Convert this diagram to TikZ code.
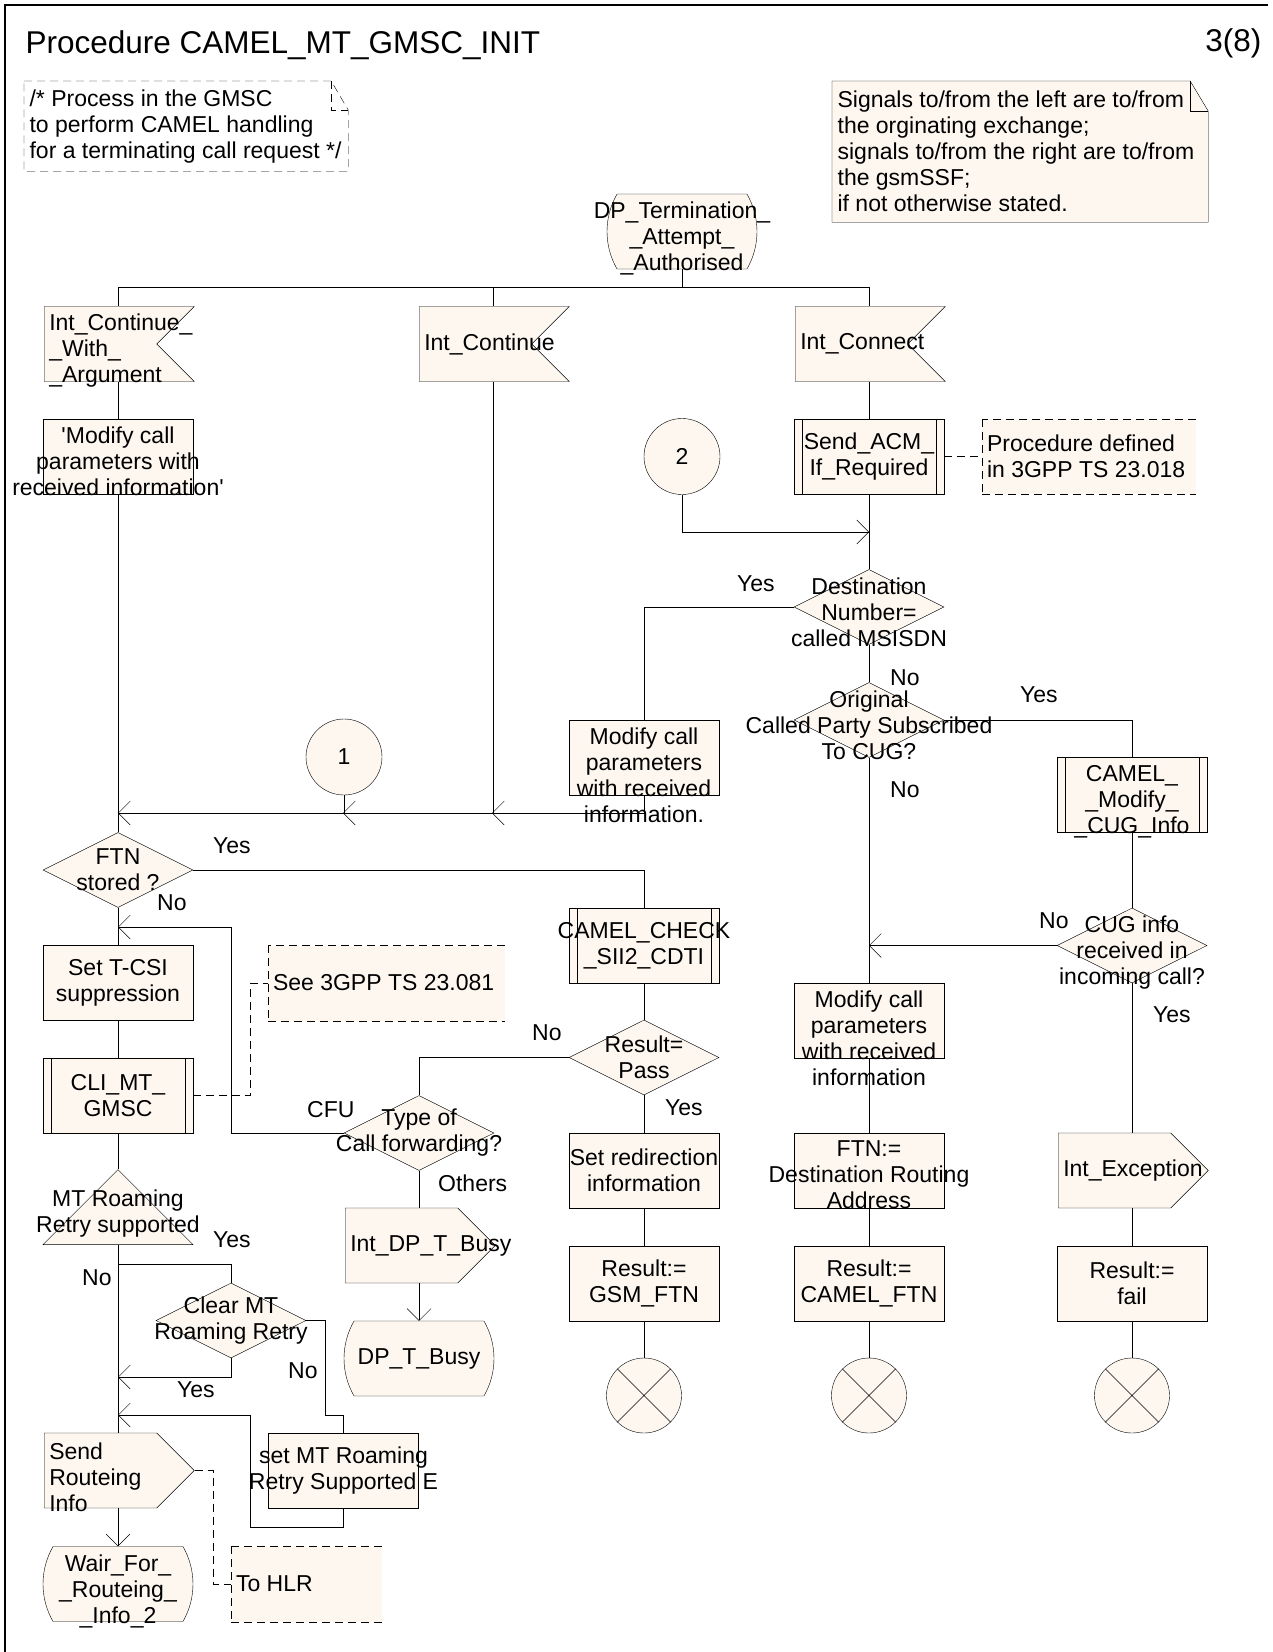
\documentclass[tikz,border=0pt]{standalone}
\usepackage{fontspec}
\setmainfont{Liberation Sans}
\usetikzlibrary{shapes.geometric,shapes.symbols,shapes.misc,arrows.meta}
\pgfdeclarelayer{background}
\pgfsetlayers{background,main}
\definecolor{sdlfill}{RGB}{253,247,240}

\begin{document}
\begin{tikzpicture}[x=1pt,y=-1pt,line width=1.2pt,
  font=\fontsize{23}{26}\selectfont,
  sym/.style={draw,fill=sdlfill,inner sep=0pt,minimum width=150pt,minimum height=75pt},
  box/.style={sym,rectangle},
  proc/.style={box,append after command={
    ([xshift=8pt]\tikzlastnode.north west) edge ([xshift=8pt]\tikzlastnode.south west)
    ([xshift=-8pt]\tikzlastnode.north east) edge ([xshift=-8pt]\tikzlastnode.south east)}},
  dec/.style={sym,diamond},
  stsym/.style={sym,rounded rectangle,rounded rectangle arc length=60},
  insig/.style={sym,signal,signal to=nowhere,signal from=east,xshift=-17.5pt},
  outsig/.style={sym,signal,signal to=east,xshift=-17.5pt},
  tri/.style={sym,isosceles triangle,shape border rotate=90,isosceles triangle stretches},
  conn/.style={sym,circle,minimum size=76pt},
  endsym/.style={sym,circle,minimum size=75pt,path picture={
    \draw (path picture bounding box.north west) -- (path picture bounding box.south east)
          (path picture bounding box.north east) -- (path picture bounding box.south west);}},
  dsh/.style={dash pattern=on 8pt off 5pt},
  cmt/.style={fill=sdlfill,inner sep=0pt,minimum height=75pt,append after command={
    (\tikzlastnode.north east) edge[dsh] (\tikzlastnode.north west)
    (\tikzlastnode.north west) edge[dsh] (\tikzlastnode.south west)
    (\tikzlastnode.south west) edge[dsh] (\tikzlastnode.south east)}},
  txt/.style={label={[anchor=center,align=center,inner sep=0pt]center:{#1}}},
  ttxt/.style={label={[anchor=north,align=center,inner sep=0pt,yshift=-8pt]north:{#1}}},
  ltxt/.style={label={[anchor=west,align=left,inner sep=0pt,xshift=5pt]west:{#1}}},
  tltxt/.style={label={[anchor=west,align=left,inner sep=0pt,xshift=5pt,yshift=-7pt]west:{#1}}},
  lab/.style={anchor=base west,inner sep=0pt},
  flow/.style={-{Straight Barb[length=12pt,width=24pt]}}]

\useasboundingbox (0,0) rectangle (1273,1652);
\draw (5,1652) -- (5,5) -- (1268,5);

\node[anchor=base west,inner sep=0pt,font=\fontsize{31.5}{36}\selectfont] (title) at (25,53) {Procedure CAMEL\_MT\_GMSC\_INIT};
\node[anchor=base east,inner sep=0pt,font=\fontsize{31.5}{36}\selectfont] (page) at (1262,51) {3(8)};

\node[anchor=north west,minimum width=323pt,minimum height=89pt,inner sep=0pt,
  ltxt={/* Process in the GMSC\\to perform CAMEL handling\\for a terminating call request */}] (remark) at (24,81) {};
\node[anchor=north west,minimum width=375pt,minimum height=140pt,inner sep=0pt,
  ltxt={Signals to/from the left are to/from\\the orginating exchange;\\signals to/from the right are to/from\\the gsmSSF;\\if not otherwise stated.}] (signals) at (832,81) {};

\begin{pgfonlayer}{background}
\draw[dsh] (remark.north west) -- ([xshift=-17pt]remark.north east) -- ([yshift=-29pt]remark.north east) -- (remark.south east) -- (remark.south west) -- cycle;
\draw[dsh] ([xshift=-17pt]remark.north east) |- ([yshift=-29pt]remark.north east);
\draw[fill=sdlfill] (signals.north west) -- ([xshift=-18pt]signals.north east) -- ([yshift=-30pt]signals.north east) -- (signals.south east) -- (signals.south west) -- cycle;
\draw ([xshift=-18pt]signals.north east) |- ([yshift=-30pt]signals.north east);
\end{pgfonlayer}

\node[stsym,ttxt={DP\_Termination\_\\\_Attempt\_\\\_Authorised}] (dpta) at (682,231.5) {};
\node[insig,tltxt={Int\_Continue\_\\\_With\_\\\_Argument}] (icwa) at (118,344) {};
\node[insig,ltxt={Int\_Continue}] (ic) at (493,344) {};
\node[insig,ltxt={Int\_Connect}] (icn) at (869,344) {};

\node[box,ttxt={\textquotesingle Modify call\\parameters with\\received information\textquotesingle}] (mod1) at (118,456.5) {};
\node[conn] (c2) at (682,456.5) {2};
\node[proc,txt={Send\_ACM\_\\If\_Required}] (acm) at (869,456.5) {};
\node[cmt,minimum width=214pt,ltxt={Procedure defined\\in 3GPP TS 23.018}] (n018) at (1089,456.5) {};

\node[dec,ttxt={Destination\\Number=\\called MSISDN}] (dest) at (869,607) {};
\node[dec,ttxt={Original\\Called Party Subscribed\\To CUG?}] (orig) at (869,720) {};
\node[box,ttxt={Modify call\\parameters\\with received\\information.}] (modB) at (644,757.5) {};
\node[conn] (c1) at (344,757) {1};
\node[proc,ttxt={CAMEL\_\\\_Modify\_\\\_CUG\_Info}] (cmod) at (1132,794.5) {};

\node[dec,txt={FTN\\stored ?}] (ftn) at (118,870) {};
\node[proc,txt={CAMEL\_CHECK\\\_SII2\_CDTI}] (camchk) at (644,945.5) {};
\node[dec,ttxt={CUG info\\received in\\incoming call?}] (cug) at (1132,945.5) {};
\node[box,txt={Set T-CSI\\suppression}] (tcsi) at (118,982.5) {};
\node[cmt,minimum width=237pt,ltxt={See 3GPP TS 23.081}] (s081) at (386.5,983) {};
\node[box,ttxt={Modify call\\parameters\\with received\\information}] (mod3) at (869,1020.5) {};

\node[proc,txt={CLI\_MT\_\\GMSC}] (cli) at (118,1095.5) {};
\node[dec,txt={Result=\\Pass}] (rpass) at (644,1057.5) {};
\node[dec,txt={Type of\\Call forwarding?}] (tcf) at (419,1133) {};
\node[box,txt={Set redirection\\information}] (setred) at (644,1170.5) {};
\node[box,ttxt={FTN:=\\Destination Routing\\Address}] (ftnd) at (869,1170.5) {};
\node[outsig,ltxt={Int\_Exception}] (iexc) at (1132,1170.5) {};

\node[tri,txt={MT Roaming\\Retry supported}] (mtr) at (118,1213.5) {};
\node[outsig,ltxt={Int\_DP\_T\_Busy}] (idp) at (419,1245.5) {};
\node[box,txt={Result:=\\GSM\_FTN}] (resgsm) at (644,1283.5) {};
\node[box,txt={Result:=\\CAMEL\_FTN}] (rescam) at (869,1283.5) {};
\node[box,txt={Result:=\\fail}] (resf) at (1132,1283.5) {};
\node[dec,txt={Clear MT\\Roaming Retry}] (clr) at (231,1320.5) {};
\node[stsym,txt={DP\_T\_Busy}] (dptb) at (419,1358.5) {};
\node[endsym] (end1) at (644,1395.5) {};
\node[endsym] (end2) at (869,1395.5) {};
\node[endsym] (end3) at (1132,1395.5) {};

\node[outsig,tltxt={Send\\Routeing\\Info}] (sri) at (118,1470.5) {};
\node[box,txt={set MT Roaming\\Retry Supported E}] (setmt) at (343.5,1470.5) {};
\node[stsym,ttxt={Wair\_For\_\\\_Routeing\_\\\_Info\_2}] (wfri) at (118,1584) {};
\node[cmt,minimum width=151pt,ltxt={To HLR}] (hlr) at (306.5,1584) {};

\node[lab] (ydest) at (737,591) {Yes};
\node[lab] (ndest) at (890,685) {No};
\node[lab] (yorig) at (1020,702) {Yes};
\node[lab] (norig) at (890,797) {No};
\node[lab] (yftn) at (213,853) {Yes};
\node[lab] (nftn) at (157,910) {No};
\node[lab] (ncug) at (1039,928) {No};
\node[lab] (ycug) at (1153,1022) {Yes};
\node[lab] (npass) at (532,1040) {No};
\node[lab] (ypass) at (665,1115) {Yes};
\node[lab] (cfu) at (307,1117) {CFU};
\node[lab] (others) at (438,1191) {Others};
\node[lab] (ymtr) at (213,1247) {Yes};
\node[lab] (nmtr) at (82,1285) {No};
\node[lab] (nclr) at (288,1378) {No};
\node[lab] (yclr) at (177,1397) {Yes};

\coordinate (bus) at (682,287);
\coordinate (j1) at (118,813);
\coordinate (j2) at (869,532);
\coordinate (j3) at (869,945.5);
\coordinate (j4) at (118,927);
\coordinate (k4) at (231,927);
\coordinate (jy) at (118,1264);
\coordinate (j5) at (118,1377);
\coordinate (k6) at (325,1415);
\coordinate (k7) at (250,1415);
\coordinate (j6) at (118,1415);

\draw (dpta) -- (bus) -| ([xshift=17.5pt]icwa.north);
\draw (bus) -| ([xshift=17.5pt]ic.north);
\draw (bus) -| ([xshift=17.5pt]icn.north);

\draw ([xshift=17.5pt]icwa.south) -- (mod1);
\draw (mod1) -- (ftn);
\draw[flow] (modB) |- (j1);
\draw[flow] ([xshift=17.5pt]ic.south) coordinate (ics) -- (ics |- j1) -- ++(-1,0);
\draw[flow] (c1) -- (c1 |- j1) -- ++(-1,0);

\draw ([xshift=17.5pt]icn.south) -- (acm);
\draw[dsh] (acm) -- (n018);
\draw[flow] (c2) |- (j2);
\draw (acm) -- (dest);
\draw (dest) -| (modB);
\draw (dest) -- (orig);
\draw (orig) -| (cmod);
\draw (orig) -- (mod3);
\draw (cmod) -- (cug);
\draw[flow] (cug) -- (j3);
\draw (cug) -- ([xshift=17.5pt]iexc.north);
\draw ([xshift=17.5pt]iexc.south) -- (resf);
\draw (resf) -- (end3);
\draw (mod3) -- (ftnd);
\draw (ftnd) -- (rescam);
\draw (rescam) -- (end2);

\draw (ftn) -| (camchk);
\draw (camchk) -- (rpass);
\draw (rpass) -- (setred);
\draw (setred) -- (resgsm);
\draw (resgsm) -- (end1);
\draw (rpass) -| (tcf);
\draw[flow] (tcf) -| (k4) -- (j4);
\draw (tcf) -- ([xshift=17.5pt]idp.north);
\draw[flow] ([xshift=17.5pt]idp.south) -- (dptb);

\draw (ftn) -- (tcsi);
\draw (tcsi) -- (cli);
\draw[dsh] (cli.east) -- ++(57,0) |- (s081);
\draw (cli) -- (mtr.apex);
\draw (mtr.lower side) -- ([xshift=17.5pt]sri.north);
\draw (jy) -| (clr);
\draw[flow] (clr) |- (j5);
\draw (clr) -| (k6) -| (setmt);
\draw[flow] (setmt.south) -- ++(0,19) -| (k7) -- (j6);
\draw[flow] ([xshift=17.5pt]sri.south) -- (wfri);
\draw[dsh] (sri.east) -- ++(19,0) |- (hlr);
\end{tikzpicture}
\end{document}
